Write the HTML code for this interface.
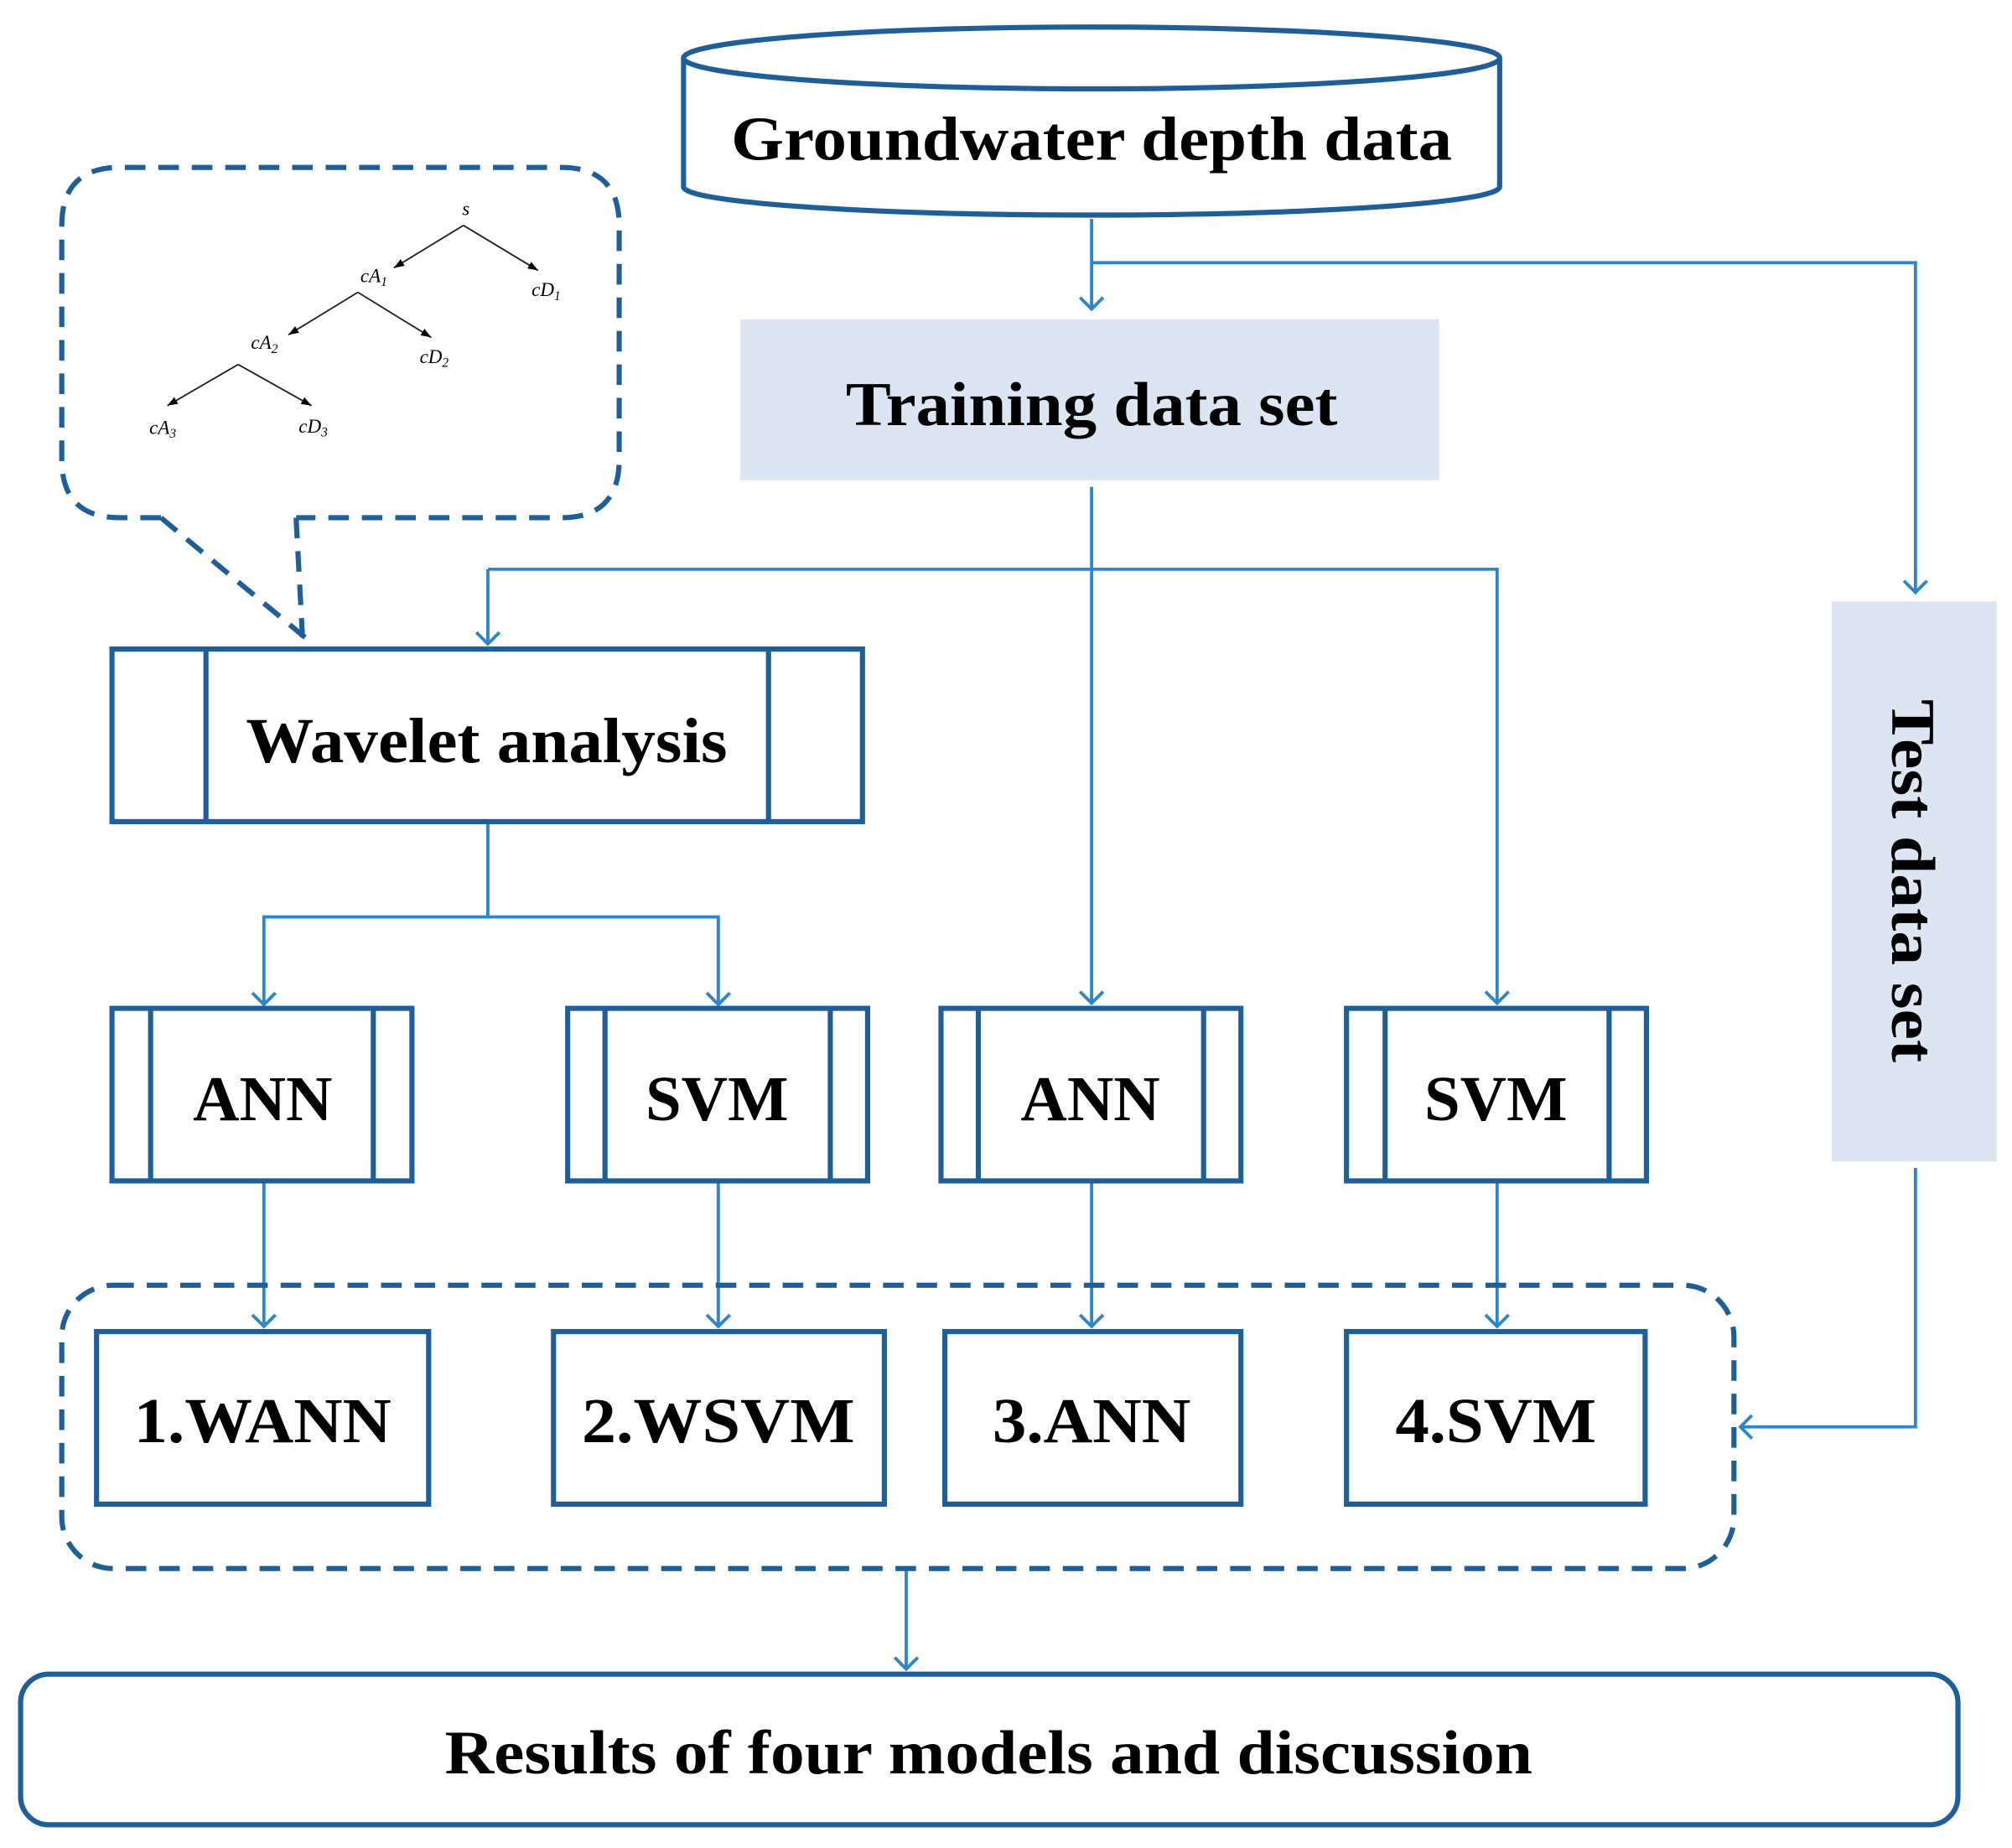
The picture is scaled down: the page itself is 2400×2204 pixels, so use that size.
<!DOCTYPE html>
<html><head><meta charset="utf-8"><style>
html,body{margin:0;padding:0;background:#fff;}
svg{display:block;}
text{font-family:"Liberation Serif",serif;font-weight:bold;fill:#000;}
text.t{font-weight:normal;font-style:italic;}
</style></head><body>
<svg width="2400" height="2204" viewBox="0 0 1563 1435" preserveAspectRatio="none" xmlns="http://www.w3.org/2000/svg">
<defs>
<marker id="ar" markerWidth="22" markerHeight="24" refX="11" refY="12" orient="auto" markerUnits="userSpaceOnUse">
<path d="M2,3 L11,12 L2,21" fill="none" stroke="#2e86c9" stroke-width="2.5"/>
</marker>
<marker id="ak" markerWidth="10" markerHeight="10" refX="8" refY="5" orient="auto" markerUnits="userSpaceOnUse">
<path d="M0,2 L8,5 L0,8 Z" fill="#000"/>
</marker>
</defs>
<g fill="none" stroke="#2e86c9" stroke-width="2.5">
<path d="M848,170 V240" marker-end="url(#ar)"/>
<path d="M848,204 H1488 V460" marker-end="url(#ar)"/>
<path d="M848,378 V779" marker-end="url(#ar)"/>
<path d="M379,442 H1163 V779" marker-end="url(#ar)"/>
<path d="M379,442 V500" marker-end="url(#ar)"/>
<path d="M379,640 V712 H205 V780" marker-end="url(#ar)"/>
<path d="M379,712 H558 V780" marker-end="url(#ar)"/>
<path d="M205,918 V1030" marker-end="url(#ar)"/>
<path d="M558,918 V1030" marker-end="url(#ar)"/>
<path d="M848,918 V1030" marker-end="url(#ar)"/>
<path d="M1163,918 V1030" marker-end="url(#ar)"/>
<path d="M1488,907 V1108 H1352" marker-end="url(#ar)"/>
<path d="M704,1218 V1296" marker-end="url(#ar)"/>
</g>
<g stroke="#1f5f99" stroke-width="4" fill="#fff">
<path d="M531,45 V145 A317,22 0 0 0 1165,145 V45"/>
<ellipse cx="848" cy="45" rx="317" ry="24"/>
</g>
<text x="848" y="124" font-size="48" text-anchor="middle" textLength="560" lengthAdjust="spacingAndGlyphs">Groundwater depth data</text>
<rect x="575" y="248" width="543" height="125" fill="#dbe6f2"/>
<text x="848" y="330" font-size="48" text-anchor="middle" textLength="382" lengthAdjust="spacingAndGlyphs">Training data set</text>
<rect x="1423" y="467" width="128" height="435" fill="#dbe6f2"/>
<text transform="translate(1470,684) rotate(90)" font-size="48" text-anchor="middle" textLength="282" lengthAdjust="spacingAndGlyphs">Test data set</text>
<g stroke="#1f5f99" stroke-width="4" fill="none">
<rect x="87" y="504" width="583" height="134"/>
<path d="M160,504 V638 M597,504 V638"/>
<rect x="87" y="783" width="233" height="134"/><path d="M117,783 V917 M290,783 V917"/>
<rect x="441" y="783" width="233" height="134"/><path d="M470,783 V917 M645,783 V917"/>
<rect x="731" y="783" width="233" height="134"/><path d="M760,783 V917 M935,783 V917"/>
<rect x="1046" y="783" width="233" height="134"/><path d="M1076,783 V917 M1250,783 V917"/>
<rect x="75" y="1034" width="258" height="134"/>
<rect x="430" y="1034" width="257" height="134"/>
<rect x="734" y="1034" width="230" height="134"/>
<rect x="1046" y="1034" width="232" height="134"/>
<rect x="16" y="1300" width="1505" height="117" rx="22"/>
</g>
<g stroke="#1f5f99" stroke-width="4" fill="none" stroke-dasharray="16,10">
<rect x="48" y="998" width="1299" height="220" rx="40"/>
<path d="M125,402 H93 Q48,402 48,357 V175 Q48,130 93,130 H436 Q481,130 481,175 V357 Q481,402 436,402 H230"/>
<path d="M230,402 L235,495"/>
<path d="M125,402 L237,495"/>
</g>
<text x="378" y="592" font-size="50" text-anchor="middle" textLength="374" lengthAdjust="spacingAndGlyphs">Wavelet analysis</text>
<text x="204" y="870" font-size="50" text-anchor="middle">ANN</text>
<text x="557" y="870" font-size="50" text-anchor="middle">SVM</text>
<text x="847" y="870" font-size="50" text-anchor="middle">ANN</text>
<text x="1162" y="870" font-size="50" text-anchor="middle">SVM</text>
<text x="204" y="1120" font-size="50" text-anchor="middle" textLength="200" lengthAdjust="spacingAndGlyphs">1.WANN</text>
<text x="558" y="1120" font-size="50" text-anchor="middle" textLength="212" lengthAdjust="spacingAndGlyphs">2.WSVM</text>
<text x="848" y="1120" font-size="50" text-anchor="middle" textLength="154" lengthAdjust="spacingAndGlyphs">3.ANN</text>
<text x="1162" y="1120" font-size="50" text-anchor="middle" textLength="156" lengthAdjust="spacingAndGlyphs">4.SVM</text>
<text x="768" y="1377" font-size="48" text-anchor="middle" textLength="845" lengthAdjust="spacingAndGlyphs">Results of four models and discussion</text>
<g stroke="#222" stroke-width="1.2" fill="none">
<path d="M360,175 L306,208" marker-end="url(#ak)"/>
<path d="M360,175 L418,210" marker-end="url(#ak)"/>
<path d="M278,227 L224,260" marker-end="url(#ak)"/>
<path d="M278,227 L335,262" marker-end="url(#ak)"/>
<path d="M185,283 L130,315" marker-end="url(#ak)"/>
<path d="M185,283 L242,315" marker-end="url(#ak)"/>
</g>
<g font-size="15">
<text class="t" x="359" y="167">s</text>
<text class="t" x="280" y="219">cA<tspan font-size="10" dy="3">1</tspan></text>
<text class="t" x="413" y="230">cD<tspan font-size="10" dy="3">1</tspan></text>
<text class="t" x="195" y="271">cA<tspan font-size="10" dy="3">2</tspan></text>
<text class="t" x="326" y="282">cD<tspan font-size="10" dy="3">2</tspan></text>
<text class="t" x="116" y="337">cA<tspan font-size="10" dy="3">3</tspan></text>
<text class="t" x="232" y="336">cD<tspan font-size="10" dy="3">3</tspan></text>
</g>
</svg>
</body></html>
